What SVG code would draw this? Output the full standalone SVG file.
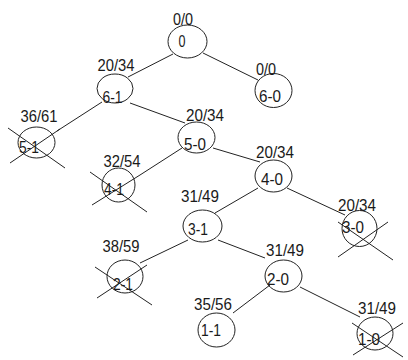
<svg xmlns="http://www.w3.org/2000/svg" width="408" height="360" viewBox="0 0 408 360">
<style>
.n ellipse{fill:none;stroke:#222;stroke-width:1}
text{font-family:"Liberation Sans",Arial,sans-serif;font-size:17px;fill:#1a1a1a;text-anchor:middle}
.e line{stroke:#222;stroke-width:1}
.x line{stroke:#222;stroke-width:1}
</style>
<rect width="408" height="360" fill="#fff"/>
<g class="e" id="connectors">
<line x1="173" y1="54" x2="128" y2="77"/>
<line x1="203" y1="53" x2="258" y2="80"/>
<line x1="102" y1="102" x2="57" y2="131"/>
<line x1="130" y1="103" x2="185" y2="123"/>
<line x1="182" y1="148" x2="140" y2="175"/>
<line x1="213" y1="148" x2="260" y2="162"/>
<line x1="258" y1="188" x2="215" y2="213"/>
<line x1="287" y1="188" x2="345" y2="215"/>
<line x1="188" y1="240" x2="140" y2="263"/>
<line x1="218" y1="240" x2="265" y2="258"/>
<line x1="270" y1="285" x2="233" y2="313"/>
<line x1="300" y1="287" x2="360" y2="317"/>
</g>
<g class="n" id="n0"><ellipse cx="187.5" cy="41.5" rx="19.5" ry="16.5"/><text x="183" y="25" textLength="20" lengthAdjust="spacingAndGlyphs">0/0</text><text x="182" y="47" textLength="7" lengthAdjust="spacingAndGlyphs">0</text></g>
<g class="n" id="n6-1"><ellipse cx="115" cy="88.5" rx="18" ry="14.5"/><text x="116" y="71" textLength="37" lengthAdjust="spacingAndGlyphs">20/34</text><text x="112.5" y="103" textLength="20" lengthAdjust="spacingAndGlyphs">6-1</text></g>
<g class="n" id="n6-0"><ellipse cx="273.5" cy="90.5" rx="18.5" ry="17"/><text x="266" y="75" textLength="20" lengthAdjust="spacingAndGlyphs">0/0</text><text x="270" y="102" textLength="22" lengthAdjust="spacingAndGlyphs">6-0</text></g>
<g class="n" id="n5-1"><ellipse cx="36.5" cy="142.5" rx="18.5" ry="15.5"/><text x="39" y="122" textLength="37" lengthAdjust="spacingAndGlyphs">36/61</text><text x="29" y="153" textLength="20" lengthAdjust="spacingAndGlyphs">5-1</text>
<g class="x"><line x1="8" y1="128" x2="65" y2="168"/><line x1="10" y1="163" x2="60" y2="129"/></g></g>
<g class="n" id="n5-0"><ellipse cx="196.5" cy="137.5" rx="18.5" ry="15.5"/><text x="205" y="121" textLength="38" lengthAdjust="spacingAndGlyphs">20/34</text><text x="195" y="150" textLength="22" lengthAdjust="spacingAndGlyphs">5-0</text></g>
<g class="n" id="n4-1"><ellipse cx="118.5" cy="185" rx="16.5" ry="17"/><text x="122" y="167" textLength="37" lengthAdjust="spacingAndGlyphs">32/54</text><text x="114" y="195" textLength="20" lengthAdjust="spacingAndGlyphs">4-1</text>
<g class="x"><line x1="90" y1="172" x2="147" y2="212"/><line x1="92" y1="205" x2="140" y2="175"/></g></g>
<g class="n" id="n4-0"><ellipse cx="273.5" cy="176" rx="18.5" ry="16"/><text x="275" y="158" textLength="38" lengthAdjust="spacingAndGlyphs">20/34</text><text x="272" y="185" textLength="22" lengthAdjust="spacingAndGlyphs">4-0</text></g>
<g class="n" id="n3-1"><ellipse cx="202.5" cy="226" rx="19.5" ry="16"/><text x="200" y="202" textLength="38" lengthAdjust="spacingAndGlyphs">31/49</text><text x="198" y="235" textLength="20" lengthAdjust="spacingAndGlyphs">3-1</text></g>
<g class="n" id="n3-0"><ellipse cx="359.5" cy="228.5" rx="17.5" ry="18"/><text x="357" y="211" textLength="38" lengthAdjust="spacingAndGlyphs">20/34</text><text x="353" y="233" textLength="22" lengthAdjust="spacingAndGlyphs">3-0</text>
<g class="x"><line x1="338" y1="222" x2="393" y2="260"/><line x1="338" y1="257" x2="388" y2="222"/></g></g>
<g class="n" id="n2-1"><ellipse cx="125" cy="276.5" rx="18" ry="16.5"/><text x="121" y="252" textLength="37" lengthAdjust="spacingAndGlyphs">38/59</text><text x="123" y="290" textLength="20" lengthAdjust="spacingAndGlyphs">2-1</text>
<g class="x"><line x1="95" y1="267" x2="152" y2="305"/><line x1="97" y1="298" x2="147" y2="265"/></g></g>
<g class="n" id="n2-0"><ellipse cx="283.5" cy="276" rx="18.5" ry="16"/><text x="285" y="256" textLength="38" lengthAdjust="spacingAndGlyphs">31/49</text><text x="278" y="285" textLength="22" lengthAdjust="spacingAndGlyphs">2-0</text></g>
<g class="n" id="n1-1"><ellipse cx="216.5" cy="330" rx="18.5" ry="17"/><text x="213" y="310" textLength="38" lengthAdjust="spacingAndGlyphs">35/56</text><text x="211" y="336" textLength="20" lengthAdjust="spacingAndGlyphs">1-1</text></g>
<g class="n" id="n1-0"><ellipse cx="375" cy="333.5" rx="18" ry="16.5"/><text x="377" y="314" textLength="38" lengthAdjust="spacingAndGlyphs">31/49</text><text x="369" y="345" textLength="22" lengthAdjust="spacingAndGlyphs">1-0</text>
<g class="x"><line x1="352" y1="323" x2="403" y2="357"/><line x1="353" y1="355" x2="403" y2="323"/></g></g>
</svg>
